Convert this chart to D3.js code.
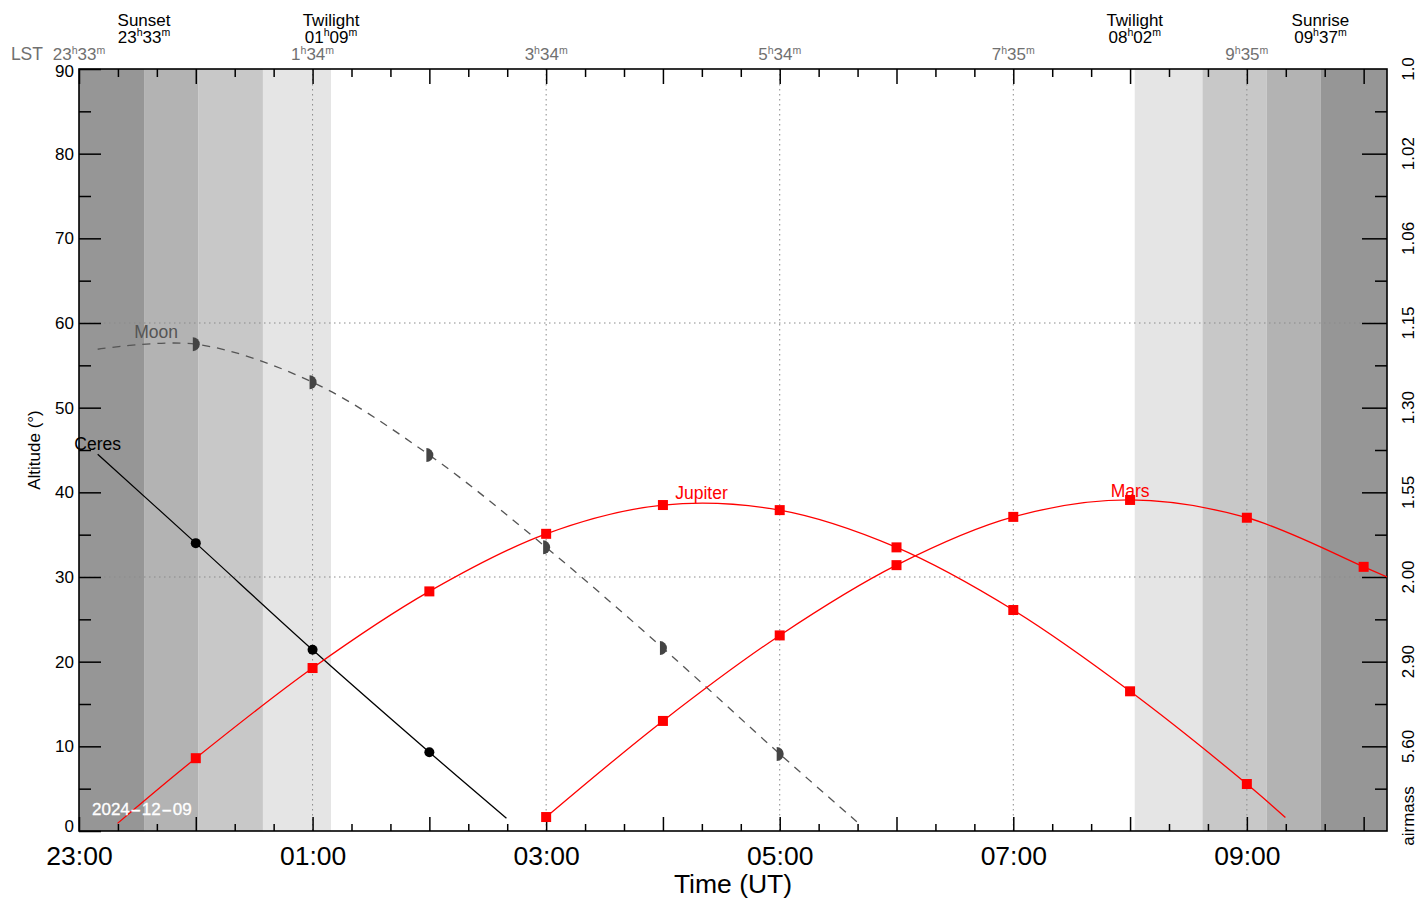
<!DOCTYPE html>
<html>
<head>
<meta charset="utf-8">
<script src="https://cdn.jsdelivr.net/npm/d3@7"></script>
<style>
  body { margin: 0; background: #fff; }
  svg { display: block; font-family: "Liberation Sans", Arial, sans-serif; }
</style>
</head>
<body>
<script>
// times are hours counted from 00:00 of the evening date, so 25 = 01:00 next morning
const timeDomain = [23, 34.2];
const altDomain = [0, 90];

// twilight shading: evening edges (sunset .. end of astro twilight) and morning edges
const shadeEve = [23, 23.557, 24.02, 24.575, 25.158];
const shadeMorn = [32.04, 32.62, 33.17, 33.63, 34.2];
const shadeGreys = ["#969696", "#b3b3b3", "#c8c8c8", "#e5e5e5"];

const eventNames = ["Sunset", "Twilight", "Twilight", "Sunrise"];
const eventTimes = ["23h33m", "01h09m", "08h02m", "09h37m"];
const eventHours = [23.557, 25.158, 32.04, 33.63];

const lstHours = [23, 25, 27, 29, 31, 33];
const lstLabels = ["23h33m", "1h34m", "3h34m", "5h34m", "7h35m", "9h35m"];

const airmassAlts = [90, 80, 70, 60, 50, 40, 30, 20, 10];
const airmassLabels = ["1.0", "1.02", "1.06", "1.15", "1.30", "1.55", "2.00", "2.90", "5.60"];

const dateParts = ["2024", "12", "09"];

// [hour, altitude]; markers go on the whole hours
const ceres = [[23.16, 44.5], [24, 34.0], [25, 21.4], [26, 9.3], [26.66, 1.5]];
const moon = [[23.16, 56.9], [24, 57.5], [25, 53.0], [26, 44.4], [27, 33.5], [28, 21.6], [29, 9.1], [29.66, 1.1]];
const jupiter = [[23.33, 0.9], [24, 8.6], [25, 19.25], [26, 28.3], [27, 35.1], [28, 38.5], [29, 37.9],
                 [30, 33.5], [31, 26.1], [32, 16.5], [33, 5.55], [33.33, 1.6]];
const mars = [[27, 1.65], [28, 13.0], [29, 23.1], [30, 31.4], [31, 37.1], [32, 39.1], [33, 37.0],
              [34, 31.2], [34.2, 30.0]];

// where the names sit, [hour, altitude]
const nameSpots = { Ceres: [23.16, 45.0], Moon: [23.66, 58.2], Jupiter: [28.33, 39.2], Mars: [32.0, 39.45] };

let width = 1420, height = 901;
let margin = { top: 69, right: 33, bottom: 70, left: 79 };
let iw = width - margin.left - margin.right, ih = height - margin.top - margin.bottom;

let svg = d3.select("body").append("svg").attr("width", width).attr("height", height);
let g = svg.append("g").attr("transform", `translate(${margin.left},${margin.top})`);

let x = d3.scaleLinear().domain(timeDomain).range([0, iw]);
let y = d3.scaleLinear().domain(altDomain).range([ih, 0]);

g.append("clipPath").attr("id", "plot").append("rect").attr("width", iw).attr("height", ih);

// shading
let bands = [];
shadeGreys.forEach((c, i) => bands.push([shadeEve[i], shadeEve[i + 1], c]));
shadeGreys.slice().reverse().forEach((c, i) => bands.push([shadeMorn[i], shadeMorn[i + 1], c]));
g.selectAll("rect.band").data(bands).join("rect")
    .attr("class", "band")
    .attr("x", d => x(d[0])).attr("width", d => x(d[1]) - x(d[0]))
    .attr("y", 0).attr("height", ih)
    .attr("fill", d => d[2]);

// dotted grid
g.selectAll("line.vg").data(lstHours.slice(1)).join("line")
    .attr("x1", d => x(d)).attr("x2", d => x(d)).attr("y1", 0).attr("y2", ih)
    .attr("stroke", "#8a8a8a").attr("stroke-dasharray", "1.5,3.5");
g.selectAll("line.hg").data([30, 60]).join("line")
    .attr("x1", 0).attr("x2", iw).attr("y1", d => y(d)).attr("y2", d => y(d))
    .attr("stroke", "#8a8a8a").attr("stroke-dasharray", "1.5,3.5");

// axes, ticks pointing inwards
let hourTicks = d3.range(23, 34.2, 1);
let minorTimes = d3.range(23, 34.2, 1 / 3).filter(h => Math.abs(h - Math.round(h)) > 0.01);
let fmtHour = h => String(Math.round(h) % 24).padStart(2, "0") + ":00";

function styleAxis(sel) {
    sel.select(".domain").remove();
    sel.selectAll(".tick line").attr("stroke", "#000").attr("stroke-width", 1.5);
}

g.append("g").attr("transform", `translate(0,${ih})`)
    .call(d3.axisBottom(x).tickValues(minorTimes).tickSize(-7).tickFormat(""))
    .call(styleAxis);
let bottomAxis = g.append("g").attr("transform", `translate(0,${ih})`)
    .call(d3.axisBottom(x).tickValues(hourTicks).tickSize(-14).tickPadding(15)
        .tickFormat(h => (Math.round(h) - 23) % 2 === 0 ? fmtHour(h) : ""))
    .call(styleAxis);
bottomAxis.selectAll("text").attr("font-size", 26.5).attr("font-family", null).attr("fill", "#000");

g.append("g").call(d3.axisTop(x).tickValues(minorTimes).tickSize(-8).tickFormat("")).call(styleAxis);
g.append("g").call(d3.axisTop(x).tickValues(hourTicks).tickSize(-15).tickFormat("")).call(styleAxis);

let leftAxis = g.append("g")
    .call(d3.axisLeft(y).tickValues(d3.range(0, 91, 10)).tickSize(-22).tickPadding(5))
    .call(styleAxis);
leftAxis.selectAll("text").attr("font-size", 17).attr("font-family", null).attr("fill", "#000")
    .attr("dy", null).attr("dominant-baseline", "central")
    .attr("y", d => d === 0 ? -5 : d === 90 ? 2 : 0);
g.append("g").call(d3.axisLeft(y).tickValues(d3.range(5, 90, 10)).tickSize(-12).tickFormat(""))
    .call(styleAxis);

g.append("g").attr("transform", `translate(${iw},0)`)
    .call(d3.axisRight(y).tickValues(d3.range(10, 90, 10)).tickSize(-25).tickFormat(""))
    .call(styleAxis);
g.append("g").attr("transform", `translate(${iw},0)`)
    .call(d3.axisRight(y).tickValues(d3.range(5, 90, 10)).tickSize(-12).tickFormat(""))
    .call(styleAxis);

// airmass labels, turned
g.selectAll("text.am").data(airmassAlts).join("text")
    .attr("transform", (d, i) => `translate(${iw + 21},${y(d)}) rotate(-90)`)
    .attr("text-anchor", "middle").attr("dy", "0.35em").attr("font-size", 17)
    .text((d, i) => airmassLabels[i]);
g.append("text")
    .attr("transform", `translate(${iw + 21},${ih - 15}) rotate(-90)`)
    .attr("text-anchor", "middle").attr("dy", "0.35em").attr("font-size", 17)
    .text("airmass");

// frame
g.append("rect").attr("width", iw).attr("height", ih)
    .attr("fill", "none").attr("stroke", "#000").attr("stroke-width", 1.6);

// hour/minute strings with raised h and m
function hm(sel, s, size) {
    let m = s.match(/^(\d+)h(\d+)m$/);
    sel.append("tspan").text(m[1]);
    sel.append("tspan").attr("font-size", size * 0.62).attr("dy", -size * 0.38).text("h");
    sel.append("tspan").attr("dy", size * 0.38).text(m[2]);
    sel.append("tspan").attr("font-size", size * 0.62).attr("dy", -size * 0.38).text("m");
}

// top annotations
eventNames.forEach((name, i) => {
    svg.append("text").attr("x", margin.left + x(eventHours[i])).attr("y", 26)
        .attr("text-anchor", "middle").attr("font-size", 17).text(name);
    svg.append("text").attr("x", margin.left + x(eventHours[i])).attr("y", 42.5)
        .attr("text-anchor", "middle").attr("font-size", 17).call(hm, eventTimes[i], 17);
});
lstHours.forEach((h, i) => {
    svg.append("text").attr("x", margin.left + x(h)).attr("y", 60)
        .attr("text-anchor", "middle").attr("font-size", 17).attr("fill", "#707070")
        .call(hm, lstLabels[i], 17);
});
svg.append("text").attr("x", 43).attr("y", 60).attr("text-anchor", "end")
    .attr("font-size", 17.5).attr("fill", "#707070").text("LST");

// axis titles
svg.append("text").attr("x", margin.left + iw / 2).attr("y", 893)
    .attr("text-anchor", "middle").attr("font-size", 26.5).text("Time (UT)");
svg.append("text").attr("transform", `translate(34,450) rotate(-90)`)
    .attr("text-anchor", "middle").attr("dy", "0.35em").attr("font-size", 17).text("Altitude (°)");

// objects
let line = d3.line().x(d => x(d[0])).y(d => y(d[1])).curve(d3.curveCatmullRom.alpha(0.5));
let plot = g.append("g").attr("clip-path", "url(#plot)");
let onHour = d => Number.isInteger(d[0]);

plot.append("path").datum(moon).attr("d", line).attr("fill", "none")
    .attr("stroke", "#555").attr("stroke-width", 1.3).attr("stroke-dasharray", "8,7");
plot.append("path").datum(ceres).attr("d", line).attr("fill", "none")
    .attr("stroke", "#000").attr("stroke-width", 1.3);
[jupiter, mars].forEach(s => {
    plot.append("path").datum(s).attr("d", line).attr("fill", "none")
        .attr("stroke", "#ff0000").attr("stroke-width", 1.3);
});

plot.selectAll("path.moonmark").data(moon.filter(onHour)).join("path")
    .attr("transform", d => `translate(${x(d[0])},${y(d[1])})`)
    .attr("d", "M-3,-7A7,7 0 0 1 -3,7Z").attr("fill", "#444");
plot.selectAll("circle.ceres").data(ceres.filter(onHour)).join("circle")
    .attr("cx", d => x(d[0])).attr("cy", d => y(d[1])).attr("r", 5).attr("fill", "#000");
plot.selectAll("rect.planet").data(jupiter.filter(onHour).concat(mars.filter(onHour))).join("rect")
    .attr("x", d => x(d[0]) - 5).attr("y", d => y(d[1]) - 5)
    .attr("width", 10).attr("height", 10).attr("fill", "#ff0000");

let nameColours = { Ceres: "#000", Moon: "#555", Jupiter: "#ff0000", Mars: "#ff0000" };
Object.keys(nameSpots).forEach(k => {
    g.append("text").attr("x", x(nameSpots[k][0])).attr("y", y(nameSpots[k][1]))
        .attr("text-anchor", "middle").attr("font-size", 17.5).attr("fill", nameColours[k]).text(k);
});

// date in the corner, with the long dashes of the original
let dateText = svg.append("text").attr("x", 92).attr("y", 815).attr("font-size", 17)
    .attr("fill", "#fff").attr("stroke", "#fff").attr("stroke-width", 0.3);
dateParts.forEach((p, i) => {
    if (i > 0) dateText.append("tspan").attr("dx", 0.5).attr("textLength", 11).attr("lengthAdjust", "spacingAndGlyphs").text("-");
    dateText.append("tspan").attr("dx", i > 0 ? 0.5 : 0).text(p);
});
</script>
</body>
</html>
